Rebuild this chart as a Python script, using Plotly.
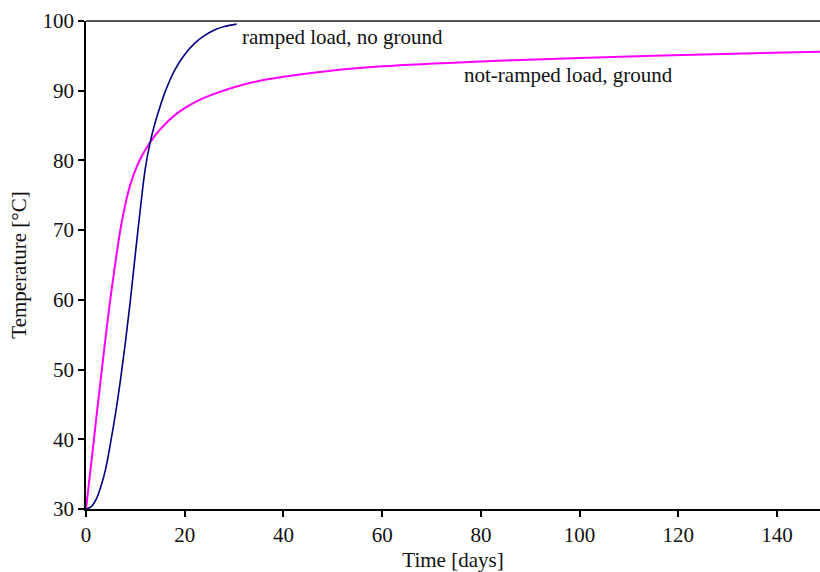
import plotly.graph_objects as go

# Temperature response over time for two load cases
ramped_days = [0, 1, 2, 3, 4, 5, 6, 7, 8, 9, 10, 11, 12, 13, 14, 15, 16, 18,
               20, 22, 24, 26, 28, 30.5]
ramped_temp = [30, 30.3, 31.3, 33.2, 35.8, 39.6, 43.8, 48.6, 54.0, 60.0, 66.6,
               73.0, 78.8, 82.6, 85.4, 87.7, 89.8, 93.0, 95.2, 96.8, 97.9,
               98.7, 99.2, 99.55]

notramped_days = [0, 1, 2, 3, 4, 5, 6, 7, 8, 9, 10, 11, 12, 14, 16, 18, 20,
                  22.5, 25, 30, 35, 40, 50, 60, 80, 100, 125, 148.7]
notramped_temp = [30, 36.2, 42.5, 48.7, 54.8, 60.5, 65.6, 70.2, 73.8, 76.6,
                  78.6, 80.2, 81.5, 83.6, 85.2, 86.5, 87.5, 88.5, 89.3, 90.5,
                  91.4, 92.0, 92.9, 93.5, 94.2, 94.7, 95.2, 95.6]

series_labels = ["ramped load, no ground", "not-ramped load, ground"]
x_ticks = [0, 20, 40, 60, 80, 100, 120, 140]
y_ticks = [30, 40, 50, 60, 70, 80, 90, 100]

FONT = "Liberation Serif, Times New Roman, serif"
FS = 21

fig = go.Figure()
fig.add_trace(go.Scatter(
    x=notramped_days, y=notramped_temp, mode="lines",
    line=dict(color="#FF00FF", width=2, shape="spline", smoothing=1.0),
    name=series_labels[1], hoverinfo="x+y"))
fig.add_trace(go.Scatter(
    x=ramped_days, y=ramped_temp, mode="lines",
    line=dict(color="#000080", width=1.6, shape="spline", smoothing=1.0),
    name=series_labels[0], hoverinfo="x+y"))

fig.add_annotation(x=31.2, y=97.7, text=series_labels[0], showarrow=False,
                   xanchor="left", yanchor="middle",
                   font=dict(family=FONT, size=FS, color="#111"))
fig.add_annotation(x=76.1, y=92.2, text=series_labels[1], showarrow=False,
                   xanchor="left", yanchor="middle",
                   font=dict(family=FONT, size=FS, color="#111"))

# gray frame line across the top of the plotting area
fig.add_shape(type="line", xref="paper", yref="paper", x0=0, x1=1, y0=1, y1=1,
              line=dict(color="#555555", width=2))

fig.update_layout(
    width=820, height=572,
    margin=dict(l=86, r=0, t=21, b=63),
    paper_bgcolor="white", plot_bgcolor="white",
    showlegend=False,
    font=dict(family=FONT, size=FS, color="#111"),
    xaxis=dict(
        range=[0, 148.7], tickvals=x_ticks, ticks="outside", ticklen=6,
        tickwidth=1.5, tickcolor="black", showline=True, linecolor="black",
        linewidth=1.5, showgrid=False, zeroline=False,
        title=dict(text="Time [days]", standoff=8,
                   font=dict(family=FONT, size=FS)),
        tickfont=dict(family=FONT, size=FS)),
    yaxis=dict(
        range=[30, 100], tickvals=y_ticks, ticks="outside", ticklen=6,
        tickwidth=1.5, tickcolor="black", showline=True, linecolor="black",
        linewidth=1.5, showgrid=False, zeroline=False,
        title=dict(text="Temperature [°C]", standoff=10,
                   font=dict(family=FONT, size=FS)),
        tickfont=dict(family=FONT, size=FS)),
)

fig.write_html("out.html")
